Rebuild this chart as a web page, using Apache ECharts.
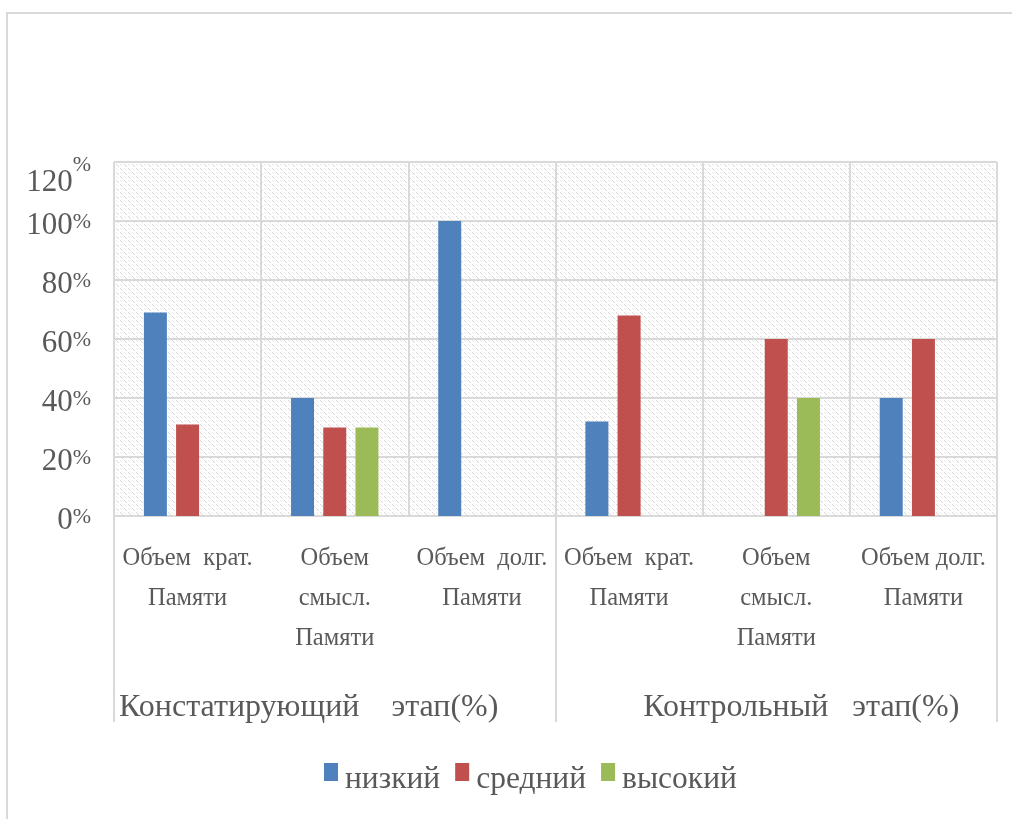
<!DOCTYPE html>
<html><head><meta charset="utf-8">
<script src="https://cdn.jsdelivr.net/npm/echarts@6/dist/echarts.min.js"></script>
<style>html,body{margin:0;padding:0;background:#fff}#c{width:1012px;height:819px}</style>
</head><body><div id="c"></div>
<script>
const categories = [
  'Объем  крат.\nПамяти',
  'Объем\nсмысл.\nПамяти',
  'Объем  долг.\nПамяти',
  'Объем  крат.\nПамяти',
  'Объем\nсмысл.\nПамяти',
  'Объем долг.\nПамяти'
];
const groups = ['Констатирующий    этап(%)', 'Контрольный   этап(%)'];
const seriesNames = ['низкий', 'средний', 'высокий'];
const lowVals = [69, 40, 100, 32, 0, 40];
const midVals = [31, 30, 0, 68, 60, 60];
const highVals = [0, 30, 0, 0, 40, 0];
const yMin = 0, yMax = 120, yStep = 20;
const colors = ['#4F81BD', '#C0504D', '#9BBB59'];

const FONT = "'Liberation Serif','Times New Roman',serif";
const TXT = '#595959';
const GRIDC = '#d9d9d9';
const groupLabelPad = [[0, 52, 0, 0], [0, 0, 0, 50]];

// hatch pattern
const pc = document.createElement('canvas');
pc.width = 8; pc.height = 8;
const g = pc.getContext('2d');
g.fillStyle = '#ffffff'; g.fillRect(0, 0, 8, 8);
g.fillStyle = '#d6d6d6';
[[0,0],[1,1],[2,2],[4,4],[5,5],[6,6]].forEach(p => g.fillRect(p[0], p[1], 1, 1));
g.fillStyle = '#e8e8e8';
[[4,0],[5,1],[0,4],[1,5]].forEach(p => g.fillRect(p[0], p[1], 1, 1));

const chart = echarts.init(document.getElementById('c'));
const seriesData = [lowVals, midVals, highVals];
chart.setOption({
  animation: false,
  backgroundColor: '#fff',
  textStyle: { fontFamily: FONT },
  graphic: [{
    type: 'rect', silent: true, z: -10,
    shape: { x: 7, y: 13, width: 1100, height: 1000 },
    style: { fill: 'none', stroke: GRIDC, lineWidth: 2 }
  }],
  grid: {
    left: 114, right: 15, top: 162, bottom: 303,
    show: true, borderColor: GRIDC, borderWidth: 1,
    backgroundColor: { image: pc, repeat: 'repeat' }
  },
  legend: {
    data: seriesNames,
    left: 324, top: 763, padding: 0,
    itemWidth: 14, itemHeight: 34, itemGap: 15,
    icon: 'path://M0,0H14V18H0Z M0,33.9L0.01,34L0,34Z',
    textStyle: { fontFamily: FONT, fontSize: 31.5, color: TXT, padding: [0, 0, 0, 2] }
  },
  xAxis: [{
    type: 'category', data: categories, gridIndex: 0, position: 'bottom',
    axisLine: { show: true, lineStyle: { color: GRIDC, width: 1 } },
    axisTick: { show: false },
    splitLine: { show: true, interval: 0, lineStyle: { color: GRIDC, width: 2 } },
    axisLabel: { interval: 0, margin: 23, fontFamily: FONT, fontSize: 24.5, lineHeight: 40, color: TXT }
  }, {
    type: 'category', gridIndex: 0, position: 'bottom', offset: 0,
    data: groups.map((v, i) => ({ value: v, textStyle: { padding: groupLabelPad[i] } })),
    axisLine: { show: false },
    axisTick: { show: true, interval: 0, length: 206, lineStyle: { color: GRIDC, width: 2 } },
    axisLabel: {
      interval: 0, margin: 176, fontFamily: FONT, fontSize: 32, lineHeight: 32, color: TXT
    }
  }],
  yAxis: {
    type: 'value', min: yMin, max: yMax, interval: yStep,
    axisLine: { show: false }, axisTick: { show: false },
    splitLine: { show: true, lineStyle: { color: GRIDC, width: 2 } },
    axisLabel: {
      margin: 23, color: TXT,
      formatter: v => v === yMax ? '{nt|' + v + '}{pt|%}' : '{n|' + v + '}{p|%}',
      rich: {
        n: { fontFamily: FONT, fontSize: 31, color: TXT, padding: [10, 0, 0, 0] },
        p: { fontFamily: FONT, fontSize: 22, color: TXT, padding: [2, 0, 0, 0] },
        nt: { fontFamily: FONT, fontSize: 31, color: TXT, padding: [42, 0, 0, 0] },
        pt: { fontFamily: FONT, fontSize: 22, color: TXT, padding: [6, 0, 0, 0] }
      }
    }
  },
  series: seriesNames.map((name, i) => ({
    name, type: 'bar', xAxisIndex: 0, data: seriesData[i],
    barWidth: 23, barGap: '40%',
    itemStyle: { color: colors[i] }
  }))
});
</script></body></html>
